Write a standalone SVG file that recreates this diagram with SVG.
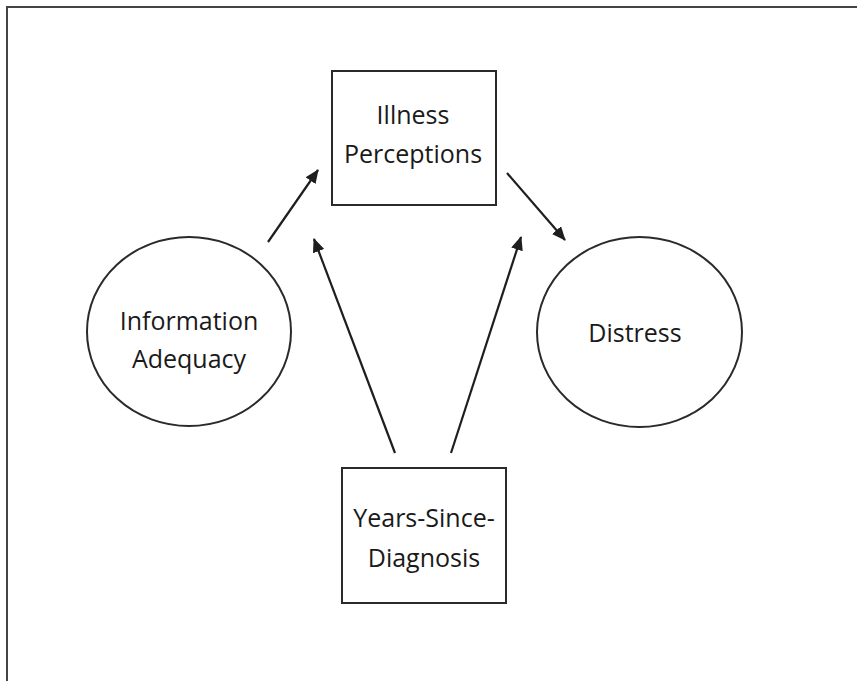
<svg xmlns="http://www.w3.org/2000/svg" width="857" height="681" viewBox="0 0 857 681">
<defs>
<style>
.node{fill:#fff;stroke:#2a2a2a;stroke-width:2}
.lbl{font-family:"Open Sans","Liberation Sans",sans-serif;font-size:25px;fill:#1a1a1a;text-anchor:middle}
.conn{stroke:#1e1e1e;stroke-width:2.2;fill:none;marker-end:url(#ah)}
</style>
<marker id="ah" viewBox="0 0 14 12" refX="13" refY="6" markerWidth="14" markerHeight="12" markerUnits="userSpaceOnUse" orient="auto">
<path d="M0,0 L14,6 L0,12 Z" fill="#1e1e1e"/>
</marker>
</defs>
<rect width="857" height="681" fill="#fff"/>
<path d="M7,690 L7,7 L870,7" fill="none" stroke="#444" stroke-width="2"/>
<g id="illness">
<rect class="node" x="332" y="71" width="164" height="134"/>
<text class="lbl" x="413" y="124">Illness</text>
<text class="lbl" x="413" y="163">Perceptions</text>
</g>
<g id="info">
<ellipse class="node" cx="189" cy="331.5" rx="102" ry="94.5"/>
<text class="lbl" x="189" y="330">Information</text>
<text class="lbl" x="189" y="368">Adequacy</text>
</g>
<g id="distress">
<ellipse class="node" cx="639.5" cy="332" rx="102.5" ry="95"/>
<text class="lbl" x="635" y="342">Distress</text>
</g>
<g id="years">
<rect class="node" x="342" y="468" width="164" height="135"/>
<text class="lbl" x="424" y="527">Years-Since-</text>
<text class="lbl" x="424" y="567">Diagnosis</text>
</g>
<g id="connectors">
<line class="conn" x1="268" y1="242" x2="318" y2="170"/>
<line class="conn" x1="507" y1="173" x2="565" y2="240"/>
<line class="conn" x1="395" y1="453" x2="314" y2="239"/>
<line class="conn" x1="451" y1="453" x2="521" y2="237"/>
</g>
</svg>
